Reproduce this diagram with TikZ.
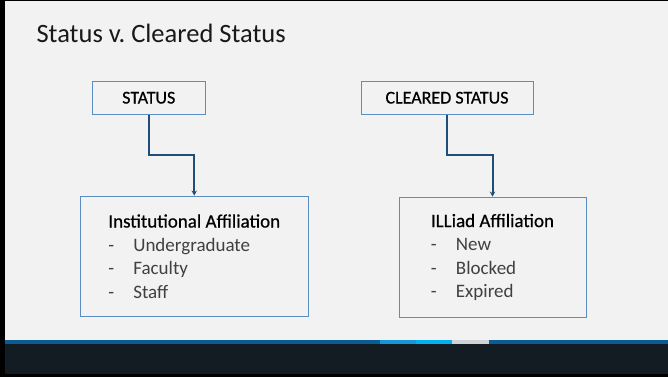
\documentclass[tikz,border=0pt]{standalone}
\usepackage{fontspec}
\setmainfont{Carlito}
\newfontfamily\semibold[FakeBold=0.6]{Carlito}
\usetikzlibrary{arrows.meta,positioning,calc}
\definecolor{slidebg}{HTML}{F2F2F2}
\definecolor{footbg}{HTML}{131C23}
\definecolor{stripedark}{HTML}{0B5C94}
\definecolor{stripemid}{HTML}{1497D6}
\definecolor{stripecyan}{HTML}{00B0F0}
\definecolor{stripegray}{HTML}{D0D3D6}
\definecolor{boxblue}{HTML}{5B8CC2}
\definecolor{linkblue}{HTML}{1F4E79}
\definecolor{itemgray}{HTML}{404040}
\newcommand{\dashitem}[1]{\makebox[25pt][l]{-}#1}
\tikzset{
  tagbox/.style={draw=boxblue, line width=0.9pt, fill=slidebg, inner sep=0pt,
                 minimum height=33.5pt, text=black,
                 font=\semibold\fontsize{18}{21}\selectfont},
  groupbox/.style={draw=boxblue, line width=0.9pt, fill=slidebg, inner sep=0pt,
                   minimum height=120.5pt, align=left, text=black,
                   font=\fontsize{19}{23.5}\selectfont},
  link/.style={-{Stealth[length=5pt,width=5.5pt]}, line width=2pt, color=linkblue}}

\begin{document}
\begin{tikzpicture}[x=1pt,y=1pt]
  % slide and footer band
  \fill[slidebg] (0,0) rectangle (668,377);
  \fill[footbg] (0,3) rectangle (668,33);
  \fill[stripedark] (0,33) rectangle (668,37);
  \fill[stripemid] (380,33) rectangle (416,37);
  \fill[stripecyan] (416,33) rectangle (452,37);
  \fill[stripegray] (452,33) rectangle (489,37);
  \fill[black] (0,0) rectangle (668,3);
  \fill[black] (0,0) rectangle (4.5,377);
  \fill[black] (0,375.5) rectangle (668,377);

  \node[anchor=base west, font=\fontsize{26.5}{30}\selectfont, text=black!90] (title)
    at (33,334.3) {Status v.\ Cleared Status};

  \node[tagbox, minimum width=112.5pt] (status) at (148.75,279.25) {STATUS};
  \node[tagbox, minimum width=172pt] (cleared) at (447,279.25) {CLEARED STATUS};

  \node[groupbox, minimum width=228.5pt] (inst) at (194.25,120.75)
    {{\semibold Institutional Affiliation}\\
     {\color{itemgray}\dashitem{Undergraduate}}\\
     {\color{itemgray}\dashitem{Faculty}}\\
     {\color{itemgray}\dashitem{Staff}}};
  \node[groupbox, minimum width=187pt] (illiad) at (492.5,119.75)
    {{\semibold ILLiad Affiliation}\\
     {\color{itemgray}\dashitem{New}}\\
     {\color{itemgray}\dashitem{Blocked}}\\
     {\color{itemgray}\dashitem{Expired}}};

  \draw[link] (status.south) -- ++(0,-40.5) -| (inst.north);
  \draw[link] (cleared.south) -- ++(0,-40.5) -| (illiad.north);
\end{tikzpicture}
\end{document}
